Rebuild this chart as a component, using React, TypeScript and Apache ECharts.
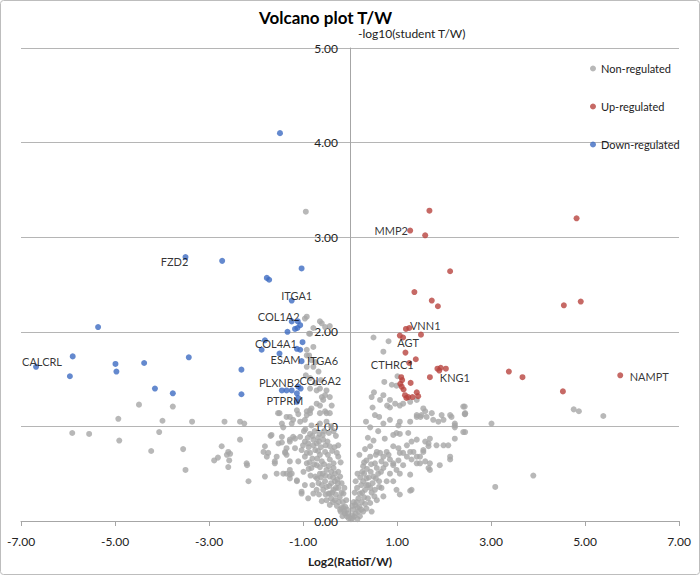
import React, { useEffect, useRef } from "react";
import * as echarts from "echarts";

const titleText = "Volcano plot T/W";
const xAxisName = "Log2(RatioT/W)";
const yAxisName = "-log10(student T/W)";
const seriesNames = ["Non-regulated", "Up-regulated", "Down-regulated"];

const nonRegulated: [number, number][] = [
  [-5.91,0.93],[-5.55,0.92],[-4.93,1.08],[-4.91,0.85],[-4.49,1.23],[-4.23,0.74],[-4.06,0.94],[-3.99,1.06],[-3.77,1.21],[-3.55,0.76],[-3.50,0.54],[-3.36,1.05],[-2.89,0.64],[-2.81,0.67],[-2.73,0.79],[-2.67,1.05],[-2.62,0.70],[-2.59,0.73],[-2.59,0.57],[-2.57,0.64],[-2.55,0.71],[-2.34,1.05],[-2.34,0.86],[-2.25,1.03],[-2.20,0.61],[-2.19,0.59],[-2.16,0.42],
  [-1.84,0.73],[-1.81,0.79],[-1.81,0.47],[-1.77,0.68],[-1.74,0.72],[-1.69,0.90],[-1.67,0.91],[-1.60,0.63],[-1.60,0.61],[-1.56,0.68],[-1.56,0.50],[-1.53,1.14],[-1.52,0.82],[-1.50,1.14],[-1.45,1.03],[-1.45,0.89],[-1.45,0.83],[-1.42,0.99],[-1.42,0.50],[-1.38,0.73],[-1.38,0.72],[-1.35,1.10],[-1.35,0.77],[-1.35,0.70],[-1.35,0.50],[-1.28,1.10],[-1.28,0.86],[-1.28,0.84],[-1.28,0.63],[-1.28,0.54],[-1.28,0.49],[-1.28,0.45],[-1.24,1.03],[-1.24,0.50],[-1.21,1.07],[-1.21,0.89],[-1.17,0.87],[-1.17,0.77],[-1.13,1.17],[-1.13,0.43],[-1.13,0.42],[-1.10,1.13],[-1.10,0.63],[-1.06,1.05],[-1.06,0.89],[-1.03,0.75],[-1.03,0.31],[-1.03,0.29],[-1.00,0.80],[-0.99,0.52],
  [-0.94,3.27],[-0.96,2.14],[-0.92,2.16],[-0.64,2.11],[-0.60,2.09],[-0.53,2.05],[-0.43,2.06],[-0.87,1.98],[-0.85,1.98],[-0.78,2.04],[-0.92,1.81],[-0.87,1.75],[-0.92,1.75],[-0.82,1.70],[-0.78,1.84],[-0.92,1.63],[-0.78,1.63],[-0.73,1.68],[-0.67,1.58],[-0.94,1.54],[-0.85,1.51],[-0.74,1.46],[-0.62,1.49],[-0.85,1.40],[-0.71,1.38],[-0.64,1.40],[-0.50,1.38],[-0.53,1.33],[-0.60,1.31],[-0.43,1.31],[-0.57,1.28],[-0.71,1.24],[-0.64,1.22],[-0.39,1.22],[-0.82,1.19],[-0.85,1.17],[-0.92,1.16],[-0.53,1.16],[-0.92,1.12],[-0.43,1.14],[-0.50,1.14],[-0.85,1.14],[-0.64,1.14],
  [-0.96,1.07],[-0.95,0.97],[-0.82,1.01],[-0.64,1.03],[-0.50,1.05],[-0.40,1.00],[-0.35,0.95],[-0.30,0.90],[-0.96,0.84],[-0.89,0.82],[-0.85,0.92],[-0.78,0.86],[-0.75,0.95],[-0.71,0.82],[-0.65,0.92],[-0.57,0.86],[-0.55,0.95],[-0.48,0.84],[-0.43,0.79],[-0.25,0.80],[-0.96,0.68],[-0.85,0.72],[-0.74,0.75],[-0.70,0.66],[-0.64,0.70],[-0.62,0.78],[-0.53,0.73],[-0.43,0.65],[-0.38,0.74],[-0.35,0.61],[-0.28,0.72],[-0.25,0.68],[-0.20,0.62],[-0.92,0.61],[-0.88,0.55],[-0.82,0.56],[-0.71,0.59],[-0.60,0.63],[-0.55,0.60],[-0.50,0.54],[-0.35,0.56],[-0.25,0.52],[-0.32,0.50],[-0.27,0.44],[-0.96,0.38],[-0.80,0.38],[-0.74,0.47],[-0.70,0.45],[-0.67,0.40],[-0.64,0.50],[-0.58,0.50],[-0.53,0.42],[-0.50,0.36],[-0.43,0.47],[-0.40,0.40],[-0.32,0.42],[-0.21,0.47],[-0.18,0.40],[-0.12,0.35],[-0.89,0.24],[-0.78,0.29],[-0.71,0.33],[-0.57,0.33],[-0.46,0.29],[-0.43,0.29],[-0.35,0.33],[-0.25,0.35],[-0.30,0.28],[-0.22,0.25],[-0.14,0.29],[-0.60,0.21],[-0.50,0.22],[-0.43,0.17],[-0.36,0.20],[-0.32,0.22],[-0.28,0.16],[-0.21,0.12],[-0.15,0.20],[-0.14,0.14],[-0.08,0.22],[-0.10,0.15],[-0.20,0.10],[-0.11,0.08],[-0.16,0.05],[-0.07,0.05],[-0.05,0.08],[-0.03,0.03],
  [-0.98,0.95],[-0.90,0.88],[-0.80,0.90],[-0.68,0.88],[-0.58,0.91],[-0.45,0.93],[-0.88,0.78],[-0.78,0.80],[-0.66,0.84],[-0.52,0.80],[-0.92,0.72],[-0.80,0.66],[-0.68,0.74],[-0.47,0.70],[-0.33,0.78],[-0.86,0.62],[-0.76,0.60],[-0.64,0.57],[-0.45,0.58],[-0.40,0.52],[-0.84,0.48],[-0.62,0.46],[-0.52,0.48],[-0.36,0.46],[-0.26,0.40],[-0.60,0.38],[-0.44,0.37],[-0.38,0.30],[-0.52,0.28],[-0.66,0.28],[-0.30,0.35],[-0.18,0.30],[-0.24,0.20],[-0.18,0.14],[-0.40,0.24],[-0.12,0.10],[-0.06,0.12],
  [0.02,0.02],[0.06,0.03],[0.04,0.06],[0.12,0.08],[0.07,0.12],[0.18,0.10],[0.11,0.17],[0.20,0.15],[0.14,0.20],[0.21,0.05],[0.28,0.10],[0.35,0.13],[0.46,0.10],[0.25,0.20],[0.18,0.24],[0.43,0.19],[0.57,0.22],[0.30,0.25],[0.21,0.29],[0.10,0.30],[0.71,0.26],[1.06,0.28],[0.32,0.33],[0.15,0.35],[0.53,0.33],[0.43,0.35],[0.67,0.35],[0.99,0.33],[1.28,0.32],[1.31,0.33],[0.39,0.38],[0.24,0.38],[0.48,0.40],[0.28,0.42],[0.62,0.42],[0.78,0.42],[0.92,0.42],[0.35,0.45],[0.55,0.45],[0.22,0.46],[0.50,0.47],[0.16,0.50],[0.60,0.50],[0.85,0.50],[1.06,0.50],[1.28,0.49],[0.26,0.52],[0.36,0.55],[0.57,0.56],[0.71,0.56],[0.99,0.54],[1.67,0.56],[1.70,0.54],[0.45,0.60],[0.53,0.61],[0.92,0.61],[0.92,0.59],[1.13,0.59],[1.42,0.61],[1.49,0.61],[1.70,0.61],[1.91,0.59],[0.30,0.62],[0.67,0.63],[1.60,0.63],[0.35,0.64],[1.03,0.64],[0.85,0.65],[1.31,0.65],[2.13,0.65],[0.43,0.68],[0.71,0.68],[1.21,0.68],[1.42,0.68],[1.49,0.68],[2.13,0.68],[0.20,0.70],[0.64,0.72],[1.06,0.72],[1.13,0.72],[0.57,0.73],[0.78,0.73],[1.28,0.73],[1.35,0.73],[1.56,0.73],[1.56,0.75],[0.32,0.76],[1.03,0.77],[0.43,0.79],[0.92,0.79],[1.67,0.79],[1.21,0.80],[1.84,0.80],[1.99,0.80],[2.09,0.80],[1.67,0.82],[1.31,0.84],[1.60,0.84],[0.50,0.85],[1.42,0.86],[0.74,0.87],[1.70,0.87],[2.23,0.87],[0.38,0.88],[0.92,0.91],[1.06,0.92],[0.99,0.93],[1.24,0.93],[0.60,0.95],[2.41,0.94],[2.45,0.94],[0.43,0.99],[2.23,0.99],[1.03,1.01],[2.23,1.01],[0.71,1.03],[2.23,1.03],[3.01,1.03],[0.34,1.05],[1.06,1.05],[1.28,1.05],[1.88,1.05],[0.85,1.07],[1.77,1.07],[1.99,1.07],[1.42,1.10],[1.50,1.10],[1.63,1.10],[2.16,1.10],[0.62,1.10],[0.53,1.12],[1.42,1.12],[1.52,1.12],[1.95,1.12],[2.13,1.12],[2.45,1.13],[2.44,1.13],[1.74,1.14],[2.45,1.14],[1.60,1.16],[1.56,1.19],[0.48,1.20],[0.85,1.20],[2.41,1.21],[2.44,1.21],[0.79,1.22],[1.06,1.22],[0.96,1.24],[1.13,1.24],[1.28,1.26],[0.64,1.28],[0.85,1.28],[1.42,1.28],[0.46,1.31],[0.71,1.33],[0.51,1.36],[0.99,1.43],[0.89,1.44],[0.73,1.47],[1.01,1.53],[0.71,1.79],[0.82,1.90],[0.50,1.94],
  [0.08,0.20],[0.16,0.14],[0.24,0.12],[0.32,0.18],[0.38,0.24],[0.26,0.30],[0.35,0.38],[0.46,0.30],[0.52,0.26],[0.40,0.46],[0.30,0.50],[0.44,0.52],[0.62,0.36],[0.66,0.52],[0.76,0.60],[0.82,0.70],[0.55,0.70],[0.28,0.58],[0.12,0.42],[0.05,0.16],[0.09,0.05],[0.16,0.02],
  [3.09,0.36],[3.90,0.48],[4.76,1.18],[4.87,1.16],[5.39,1.11]
];

const upRegulated: [number, number][] = [
  [1.69,3.28],[4.82,3.20],[1.28,3.07],[1.60,3.02],[2.13,2.64],[1.37,2.42],[1.74,2.33],[1.87,2.27],[4.55,2.28],[4.91,2.32],[1.19,2.03],[1.26,2.04],[1.51,1.97],[1.06,1.96],[1.13,1.94],[1.18,1.78],[1.40,1.71],[1.26,1.67],[1.86,1.61],[1.93,1.62],[1.90,1.59],[2.04,1.61],[1.70,1.52],[3.38,1.58],[3.67,1.52],[5.75,1.54],[4.53,1.37],[1.09,1.52],[1.11,1.49],[1.29,1.46],[1.10,1.42],[1.14,1.39],[1.17,1.33],[1.24,1.31],[1.33,1.31],[1.42,1.36],[1.45,1.32],[1.07,1.45],[1.20,1.30]
];

const downRegulated: [number, number][] = [
  [-6.68,1.63],[-5.90,1.74],[-5.96,1.53],[-5.36,2.05],[-4.99,1.66],[-4.97,1.58],[-4.38,1.67],[-4.15,1.40],[-3.77,1.35],[-3.43,1.73],[-3.50,2.79],[-2.72,2.75],[-2.31,1.60],[-2.31,1.34],[-1.77,2.57],[-1.72,2.55],[-1.03,2.67],[-1.24,2.33],[-1.49,4.10],[-1.24,2.11],[-1.11,2.11],[-1.06,2.07],[-1.17,2.03],[-1.12,2.04],[-1.33,2.00],[-1.01,1.89],[-1.81,1.91],[-1.88,1.81],[-1.13,1.82],[-1.06,1.81],[-1.50,1.77],[-1.03,1.69],[-1.45,1.38],[-1.35,1.38],[-1.24,1.38],[-1.10,1.42],[-1.05,1.40],[-1.13,1.35],[-1.10,1.30],[-1.13,1.26]
];

const geneNames = ["CALCRL","FZD2","ITGA1","COL1A2","COL4A1","ESAM","ITGA6","PLXNB2","COL6A2","PTPRM","MMP2","VNN1","AGT","CTHRC1","KNG1","NAMPT"];
const genePoints: [number, number][] = [
  [-6.68,1.63],[-3.50,2.79],[-1.24,2.33],[-1.24,2.11],[-1.81,1.91],[-1.50,1.77],[-1.03,1.69],[-1.35,1.38],[-1.10,1.42],[-1.13,1.26],
  [1.28,3.07],[1.26,2.04],[1.13,1.94],[1.26,1.67],[1.70,1.52],[5.75,1.54]
];

// label placement (pixel offsets from the marker) – style, not data
const labelOffsets: Record<string, [number, number]> = {
  CALCRL: [6, -5], FZD2: [-11, 4], ITGA1: [5, -5], COL1A2: [-13, -5], COL4A1: [11, 3],
  ESAM: [6, 6], ITGA6: [21, -1], PLXNB2: [-7, -8], COL6A2: [22, -6], PTPRM: [-12, -1],
  MMP2: [-19, 0], VNN1: [16, -3], AGT: [5, 5], CTHRC1: [-17, 1], KNG1: [25, 0], NAMPT: [29, 1],
};

const FONT = "Lato";
const fmt = (v: number) => v.toFixed(2);

function withLabels(points: [number, number][]) {
  return points.map((p) => {
    const gi = genePoints.findIndex((g) => g[0] === p[0] && g[1] === p[1]);
    if (gi < 0) return { value: p };
    const name = geneNames[gi];
    return {
      value: p,
      name,
      label: {
        show: true,
        formatter: name,
        position: "inside",
        offset: labelOffsets[name],
        color: "#000",
        fontSize: 11,
        fontFamily: FONT,
      },
    };
  });
}

export default function App() {
  const ref = useRef<HTMLDivElement>(null);
  useEffect(() => {
    const chart = echarts.init(ref.current!, null, { renderer: "svg" });
    const option: any = {
      animation: false,
      backgroundColor: "#fff",
      title: {
        text: titleText,
        left: 254,
        top: 4,
        textStyle: { fontFamily: FONT, fontWeight: "bold", fontSize: 17, color: "#000" },
      },
      legend: {
        orient: "vertical",
        left: 585,
        top: 58,
        itemGap: 27,
        itemWidth: 6,
        itemHeight: 6,
        icon: "circle",
        data: seriesNames,
        textStyle: { fontFamily: FONT, fontSize: 11, color: "#222" },
      },
      graphic: [
        {
          type: "rect",
          shape: { x: 0.5, y: 0.5, width: 699, height: 574, r: 3 },
          style: { fill: "none", stroke: "#bdbdbd", lineWidth: 1 },
          silent: true,
        },
      ],
      grid: { left: 21, right: 21, top: 48, bottom: 54, containLabel: false, outerBoundsMode: "none" },
      xAxis: {
        type: "value",
        min: -7,
        max: 7,
        interval: 2,
        splitLine: { show: false },
        axisLine: { show: true, lineStyle: { color: "#a6a6a6" } },
        axisTick: { show: true, length: 5, lineStyle: { color: "#a6a6a6" } },
        axisLabel: { formatter: fmt, fontFamily: FONT, fontSize: 12, color: "#222", margin: 14 },
        name: xAxisName,
        nameLocation: "middle",
        nameGap: 34,
        nameTextStyle: { fontFamily: FONT, fontWeight: "bold", fontSize: 12, color: "#222" },
      },
      yAxis: {
        type: "value",
        min: 0,
        max: 5,
        interval: 1,
        axisLine: { show: true, onZero: true, lineStyle: { color: "#a6a6a6" } },
        axisTick: { show: false },
        splitLine: { show: true, lineStyle: { color: "#b5b5b5" } },
        axisLabel: { formatter: fmt, fontFamily: FONT, fontSize: 12, color: "#222", margin: -317 },
        name: yAxisName,
        nameLocation: "end",
        nameGap: 9,
        nameTextStyle: { fontFamily: FONT, fontSize: 12, color: "#222", align: "left", padding: [0, 0, 0, 8] },
      },
      series: [
        {
          name: seriesNames[0],
          type: "scatter",
          symbol: "circle",
          symbolSize: 6,
          itemStyle: { color: "#a6a6a6" },
          data: nonRegulated,
        },
        {
          name: seriesNames[1],
          type: "scatter",
          symbol: "circle",
          symbolSize: 6,
          itemStyle: { color: "#b8433f" },
          data: withLabels(upRegulated),
        },
        {
          name: seriesNames[2],
          type: "scatter",
          symbol: "circle",
          symbolSize: 6,
          itemStyle: { color: "#3d6cc2" },
          data: withLabels(downRegulated),
        },
      ],
    };
    chart.setOption(option);
    return () => chart.dispose();
  }, []);
  return (
    <div
      ref={ref}
      style={{ position: "fixed", left: 0, top: 0, width: 700, height: 575, background: "#fff" }}
    />
  );
}
